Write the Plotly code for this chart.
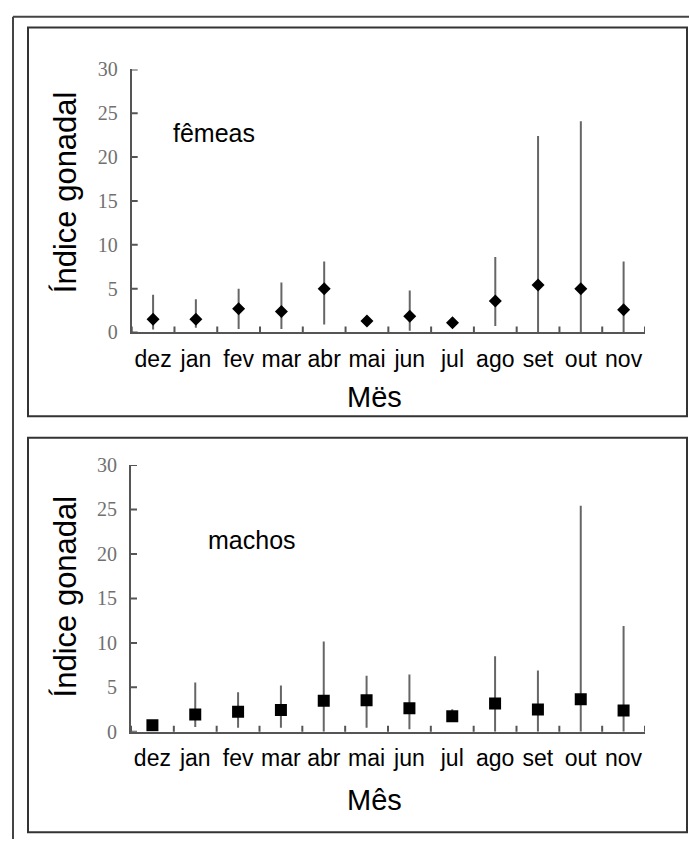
import plotly.graph_objects as go

# Monthly gonadal index (mean with min-max range) for females and males
meses = ["dez", "jan", "fev", "mar", "abr", "mai", "jun", "jul", "ago", "set", "out", "nov"]

femeas_media = [1.5, 1.5, 2.7, 2.4, 5.0, 1.3, 1.85, 1.1, 3.6, 5.4, 5.0, 2.6]
femeas_max = [4.3, 3.8, 5.0, 5.7, 8.1, 1.6, 4.8, 1.3, 8.6, 22.4, 24.1, 8.1]
femeas_min = [0.35, 0.55, 0.4, 0.4, 0.9, 1.0, 0.2, 0.9, 0.75, 0.0, 0.0, 0.0]

machos_media = [0.75, 1.95, 2.25, 2.45, 3.5, 3.55, 2.65, 1.75, 3.2, 2.5, 3.65, 2.4]
machos_max = [1.3, 5.55, 4.45, 5.2, 10.15, 6.3, 6.45, 2.55, 8.5, 6.9, 25.4, 11.9]
machos_min = [0.2, 0.55, 0.45, 0.45, 0.0, 0.45, 0.3, 1.1, 0.0, 0.0, 0.0, 0.0]

y_ticks = [0, 5, 10, 15, 20, 25, 30]

W, H = 689, 850
FONT = "Liberation Sans, Arial, sans-serif"
AXIS_COLOR = "#555555"
BAR_COLOR = "#666666"


def px(x):
    return x / W


def py(y):
    return 1 - y / H


x_idx = list(range(len(meses)))

fig = go.Figure()

panels = [
    # (mean, max, min, marker symbol, marker size, x-axis id, y-axis id)
    (femeas_media, femeas_max, femeas_min, "diamond", 10, "x", "y"),
    (machos_media, machos_max, machos_min, "square", 12, "x2", "y2"),
]

for media, vmax, vmin, symbol, size, xa, ya in panels:
    fig.add_trace(go.Scatter(
        x=x_idx, y=media, mode="markers", xaxis=xa, yaxis=ya,
        marker=dict(symbol=symbol, size=size, color="black", line=dict(width=0)),
        error_y=dict(
            type="data", symmetric=False,
            array=[hi - m for hi, m in zip(vmax, media)],
            arrayminus=[m - lo for m, lo in zip(media, vmin)],
            width=0, thickness=2, color=BAR_COLOR,
        ),
        showlegend=False, hoverinfo="skip",
    ))

# axis geometry (pixels)
top = dict(x0=131.7, x1=645, y0=330, y1=60)
bot = dict(x0=131.0, x1=645, y0=740, y1=466)

xaxis_common = dict(
    range=[-0.5, 11.5], tickvals=x_idx, ticktext=meses,
    showline=True, linecolor=AXIS_COLOR, linewidth=2, showgrid=False, zeroline=False,
    ticks="outside", ticklen=5, tickcolor="rgba(0,0,0,0)",
    tickfont=dict(family=FONT, size=23, color="black"),
)
yaxis_common = dict(
    range=[0, 30], tickvals=y_ticks,
    showline=True, linecolor=AXIS_COLOR, linewidth=2, showgrid=False, zeroline=False,
    ticks="outside", ticklen=8, tickcolor="rgba(0,0,0,0)",
    tickfont=dict(family="Liberation Serif, Times New Roman, serif", size=20, color="#707070"),
)

fig.update_layout(
    width=W, height=H, margin=dict(l=0, r=0, t=0, b=0),
    paper_bgcolor="white", plot_bgcolor="white",
    xaxis=dict(domain=[px(top["x0"]), px(top["x1"])], anchor="y", **xaxis_common),
    yaxis=dict(domain=[py(top["y0"]), py(top["y1"])], anchor="x", **yaxis_common),
    xaxis2=dict(domain=[px(bot["x0"]), px(bot["x1"])], anchor="y2", **xaxis_common),
    yaxis2=dict(domain=[py(bot["y0"]), py(bot["y1"])], anchor="x2", **yaxis_common),
)

shapes = []
# crossing tick marks on both axes of each panel
for xa, ya in [("x", "y"), ("x2", "y2")]:
    for b in [i - 0.5 for i in range(len(meses) + 1)]:
        shapes.append(dict(type="line", xref=xa, yref=ya, ysizemode="pixel", yanchor=0,
                           x0=b, x1=b, y0=-6, y1=6,
                           line=dict(color=AXIS_COLOR, width=2)))
    for t in y_ticks:
        shapes.append(dict(type="line", xref=xa, yref=ya, xsizemode="pixel", xanchor=-0.5,
                           x0=-6, x1=6, y0=t, y1=t,
                           line=dict(color=AXIS_COLOR, width=2)))

# panel frames and outer border
for (x0, y0, x1, y1) in [(28, 17, 687, 416), (28, 438, 687, 843)]:
    shapes.append(dict(type="rect", xref="paper", yref="paper",
                       x0=px(x0), x1=px(x1), y0=py(y1), y1=py(y0),
                       line=dict(color="#333333", width=2)))
shapes.append(dict(type="line", xref="paper", yref="paper",
                   x0=px(13), x1=px(13), y0=py(6), y1=py(850),
                   line=dict(color="#444444", width=2)))
shapes.append(dict(type="line", xref="paper", yref="paper",
                   x0=px(13), x1=px(689), y0=py(6), y1=py(6),
                   line=dict(color="#444444", width=2)))
fig.update_layout(shapes=shapes)

annotations = []
for label, xt, yt, ylab_y, xlab, xlab_y in [
    ("fêmeas", 214, 125, 186, "Mës", 396),
    ("machos", 252, 543, 601, "Mês", 810),
]:
    annotations.append(dict(text=label, x=px(xt), y=py(yt), xref="paper", yref="paper",
                            xanchor="center", yanchor="middle",
                            showarrow=False, font=dict(family=FONT, size=25, color="black")))
    annotations.append(dict(text="Índice gonadal", x=px(65), y=py(ylab_y), xref="paper", yref="paper",
                            xanchor="center", yanchor="middle",
                            textangle=-90, showarrow=False,
                            font=dict(family=FONT, size=31, color="black")))
    annotations.append(dict(text=xlab, x=px(375), y=py(xlab_y), xref="paper", yref="paper",
                            xanchor="center", yanchor="middle",
                            showarrow=False, font=dict(family=FONT, size=29, color="black")))
fig.update_layout(annotations=annotations)

fig.write_html("out.html")
